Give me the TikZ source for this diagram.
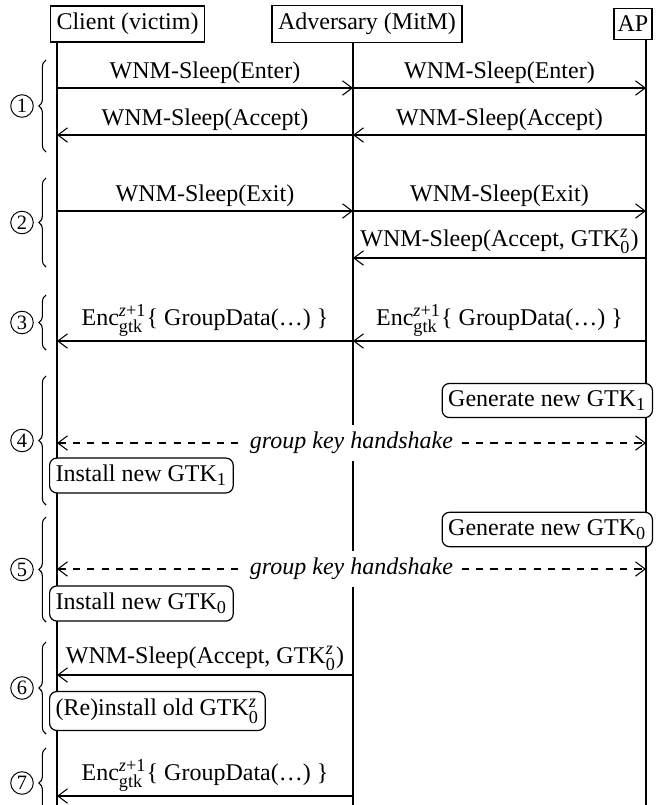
\documentclass[tikz,border=0pt]{standalone}
\usepackage{amsmath}
\usepackage{fontspec}
\setmainfont{Liberation Serif}
\DeclareMathSizes{10}{10}{7.6}{6}
\usetikzlibrary{arrows.meta,decorations.pathreplacing}
\newcommand{\encmsg}{$\text{Enc}^{\text{\textit{z}+1}}_{\text{gtk}}$\{ GroupData(…) \}}
\newcommand{\gtkz}{GTK$^{\text{\textit{z}}}_{\text{0}}$}
\begin{document}
\begin{tikzpicture}[x=0.41667pt,y=-0.41667pt,
  font=\fontsize{10}{12}\selectfont,
  actor/.style={draw, fill=white, inner xsep=2.5pt, inner ysep=3pt, line width=0.5pt},
  life/.style={line width=0.45pt},
  msg/.style={-{Straight Barb[length=4pt,width=6pt]}, line width=0.45pt},
  msglabel/.style={above, inner sep=1.5pt},
  hs/.style={{Straight Barb[length=4pt,width=6pt]}-{Straight Barb[length=4pt,width=6pt]}, line width=0.45pt, dash pattern=on 3pt off 3pt},
  hslabel/.style={fill=white, inner sep=3pt, font=\fontsize{10}{12}\selectfont\itshape},
  action/.style={draw, rounded corners=3pt, fill=white, inner xsep=2.5pt, inner ysep=3pt, line width=0.5pt},
  grp/.style={decorate, decoration={brace, amplitude=3pt}, line width=0.45pt},
  num/.style={circle, draw, line width=0.4pt, minimum size=9.4pt, inner sep=0pt, font=\fontsize{8.5}{9}\selectfont}]
\useasboundingbox (0,0) rectangle (657,805);
% actors
\node[actor] (client) at (127.5,24) {Client (victim)};
\node[actor] (adv) at (367,24) {Adversary (MitM)};
\node[actor, inner xsep=1.5pt] (ap) at (633,24) {AP};
% lifelines
\coordinate (C) at (57,0);
\coordinate (A) at (353,0);
\coordinate (P) at (646,0);
\coordinate (bottom) at (0,830);
\draw[life] (client.south -| C) -- (C |- bottom);
\draw[life] (adv.south -| A) -- (A |- bottom);
\draw[life] (ap.south -| P) -- (P |- bottom);
% rows
\coordinate (r1) at (0,88);
\coordinate (r2) at (0,135);
\coordinate (r3) at (0,211);
\coordinate (r4) at (0,258);
\coordinate (r5) at (0,341);
\coordinate (r6) at (0,443);
\coordinate (r7) at (0,569);
\coordinate (r8) at (0,675);
\coordinate (r9) at (0,796);
% messages
\draw[msg] (C |- r1) -- node[msglabel] (m1a) {WNM-Sleep(Enter)} (A |- r1);
\draw[msg] (A |- r1) -- node[msglabel] (m1b) {WNM-Sleep(Enter)} (P |- r1);
\draw[msg] (P |- r2) -- node[msglabel] (m2b) {WNM-Sleep(Accept)} (A |- r2);
\draw[msg] (A |- r2) -- node[msglabel] (m2a) {WNM-Sleep(Accept)} (C |- r2);
\draw[msg] (C |- r3) -- node[msglabel] (m3a) {WNM-Sleep(Exit)} (A |- r3);
\draw[msg] (A |- r3) -- node[msglabel] (m3b) {WNM-Sleep(Exit)} (P |- r3);
\draw[msg] (P |- r4) -- node[msglabel] (m4b) {WNM-Sleep(Accept, \gtkz)} (A |- r4);
\draw[msg] (P |- r5) -- node[msglabel] (m5b) {\encmsg} (A |- r5);
\draw[msg] (A |- r5) -- node[msglabel] (m5a) {\encmsg} (C |- r5);
\draw[hs] (C |- r6) -- node[hslabel] (h1) {group key handshake} (P |- r6);
\draw[hs] (C |- r7) -- node[hslabel] (h2) {group key handshake} (P |- r7);
\draw[msg] (A |- r8) -- node[msglabel] (m8a) {WNM-Sleep(Accept, \gtkz)} (C |- r8);
\draw[msg] (A |- r9) -- node[msglabel] (m9a) {\encmsg} (C |- r9);
% actions
\node[action, anchor=east] (gen1) at (653,400.5) {Generate new GTK$_{\text{1}}$};
\node[action, anchor=west] (inst1) at (49,475.5) {Install new GTK$_{\text{1}}$};
\node[action, anchor=east] (gen0) at (653,529.5) {Generate new GTK$_{\text{0}}$};
\node[action, anchor=west] (inst0) at (49,603.5) {Install new GTK$_{\text{0}}$};
\node[action, anchor=west] (reinst) at (49,711) {(Re)install old \gtkz};
% phase braces
\draw[grp] (46,152) -- (46,60);
\draw[grp] (46,267) -- (46,178);
\draw[grp] (46,350) -- (46,295);
\draw[grp] (46,505) -- (46,376);
\draw[grp] (46,622) -- (46,517);
\draw[grp] (46,734) -- (46,642);
\draw[grp] (46,818) -- (46,748);
\node[num] (n1) at (22,106) {1};
\node[num] (n2) at (22,222.5) {2};
\node[num] (n3) at (22,322.5) {3};
\node[num] (n4) at (22,440.5) {4};
\node[num] (n5) at (22,569.5) {5};
\node[num] (n6) at (22,688) {6};
\node[num] (n7) at (22,783) {7};
\end{tikzpicture}
\end{document}
